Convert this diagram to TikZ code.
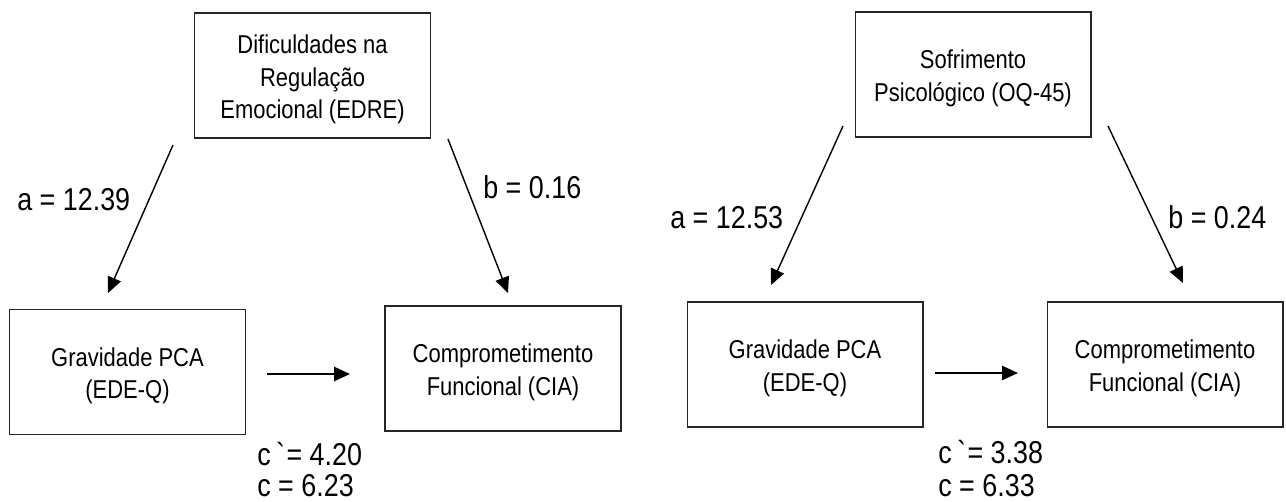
\documentclass[tikz,border=0pt]{standalone}
\usepackage{fontspec}
\setmainfont{Liberation Sans}[FakeStretch=0.85]
\usetikzlibrary{arrows.meta}

\newcommand{\boxstrut}{\rule{0pt}{15pt}}

\begin{document}
\begin{tikzpicture}[
  x=0.02cm,
  y=-0.02cm,
  varbox/.style={draw=black!85, line width=0.6pt, align=center,
    inner sep=0pt, minimum width=4.72cm, minimum height=2.5cm,
    font=\fontsize{14.7}{18.7}\selectfont},
  effect/.style={-{Triangle[length=9pt,width=8pt]}, line width=0.8pt},
  coeff/.style={anchor=west, inner sep=0pt,
    font=\fontsize{18}{20}\selectfont}
]
\useasboundingbox (0,0) rectangle (1286,501);

% Left model: emotion regulation
\node[varbox] (emoL) at (312.5,75.5)
  {\boxstrut Dificuldades na\\Regulação\\Emocional (EDRE)};
\node[varbox] (gravL) at (127.5,372) {\boxstrut Gravidade PCA\\(EDE-Q)};
\node[varbox] (compL) at (503,368.5)
  {\boxstrut Comprometimento\\Funcional (CIA)};

\coordinate (aLs) at (173,145);
\coordinate (aLe) at (108,293);
\coordinate (bLs) at (448,139);
\coordinate (bLe) at (508,293);
\coordinate (cLs) at (267,374);
\coordinate (cLe) at (350,374);

\draw[effect] (aLs) -- (aLe);
\draw[effect] (bLs) -- (bLe);
\draw[effect, line width=1.1pt] (cLs) -- (cLe);

\node[coeff] (aLlab) at (17,200) {a = 12.39};
\node[coeff] (bLlab) at (483,187) {b = 0.16};
\node[coeff] (cpLlab) at (257,454) {c\,\textasciigrave= 4.20};
\node[coeff] (cLlab) at (257,486) {c = 6.23};

% Right model: psychological distress
\node[varbox] (sofR) at (973,74.5)
  {\boxstrut Sofrimento\\Psicológico (OQ-45)};
\node[varbox] (gravR) at (805,364.5) {\boxstrut Gravidade PCA\\(EDE-Q)};
\node[varbox] (compR) at (1165,364.5)
  {\boxstrut Comprometimento\\Funcional (CIA)};

\coordinate (aRs) at (843,126);
\coordinate (aRe) at (771,285);
\coordinate (bRs) at (1108,126);
\coordinate (bRe) at (1183,283);
\coordinate (cRs) at (935,373);
\coordinate (cRe) at (1018,373);

\draw[effect] (aRs) -- (aRe);
\draw[effect] (bRs) -- (bRe);
\draw[effect, line width=1.1pt] (cRs) -- (cRe);

\node[coeff] (aRlab) at (670,218) {a = 12.53};
\node[coeff] (bRlab) at (1168,217) {b = 0.24};
\node[coeff] (cpRlab) at (938,452) {c\,\textasciigrave= 3.38};
\node[coeff] (cRlab) at (938,486) {c = 6.33};

\end{tikzpicture}
\end{document}
